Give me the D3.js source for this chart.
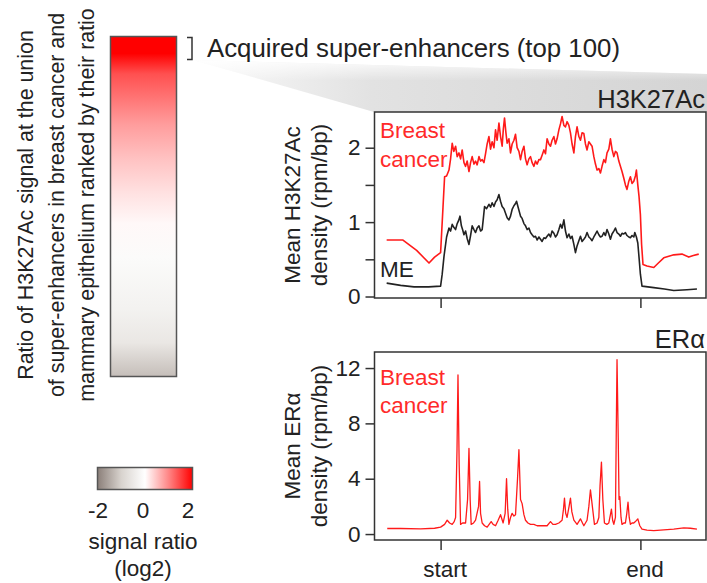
<!DOCTYPE html>
<html>
<head>
<meta charset="utf-8">
<script src="https://cdn.jsdelivr.net/npm/d3@7"></script>
<style>
  body { margin: 0; background: #fff; }
  svg text { font-family: "Liberation Sans", Arial, sans-serif; fill: #222; }
</style>
</head>
<body>
<div id="chart"></div>
<script>
// ranked log2 ratio along the heatmap (rank fraction, ratio)
const heatRank  = [0, 0.05, 0.11, 0.26, 0.36, 0.46, 0.55, 0.65, 0.80, 0.90, 1]
const heatRatio = [2, 2, 1.4, 0.8, 0.5, 0.25, 0.06, -0.1, -0.3, -0.55, -1.25]
const legendTicks = [-2, 0, 2]

// profiles: [relative position (start=0, end=1), density]
const h3Breast = [[-0.27,0.76],[-0.19,0.76],[-0.12,0.62],[-0.058,0.45],[-0.03,0.53],[0,0.59],[0.012,1.2],[0.02,1.61],[0.03,1.62],[0.042,1.7],[0.05,1.85],[0.058,2.06],[0.066,1.95],[0.075,2.02],[0.083,1.88],[0.092,1.93],[0.1,1.85],[0.108,1.97],[0.117,1.8],[0.125,1.75],[0.133,1.82],[0.142,1.68],[0.15,1.8],[0.158,1.88],[0.167,1.78],[0.175,1.82],[0.183,1.77],[0.192,1.88],[0.2,1.82],[0.208,1.84],[0.217,1.8],[0.225,1.92],[0.233,2.05],[0.242,2.15],[0.25,1.98],[0.258,2.08],[0.267,2.0],[0.275,2.24],[0.283,2.1],[0.292,2.33],[0.3,2.15],[0.308,2.02],[0.314,2.25],[0.32,2.4],[0.327,2.2],[0.333,2.06],[0.342,2.12],[0.35,1.93],[0.358,2.05],[0.367,2.1],[0.375,2.18],[0.383,2.0],[0.392,1.95],[0.4,1.84],[0.408,1.95],[0.417,2.02],[0.425,1.85],[0.433,1.77],[0.442,1.85],[0.45,1.88],[0.458,1.8],[0.467,1.75],[0.475,1.82],[0.483,1.78],[0.492,1.84],[0.5,1.84],[0.508,1.9],[0.517,1.97],[0.525,1.92],[0.533,2.12],[0.542,2.05],[0.55,2.02],[0.558,2.1],[0.567,2.15],[0.575,2.05],[0.583,2.12],[0.592,2.24],[0.6,2.32],[0.608,2.42],[0.617,2.3],[0.625,2.28],[0.633,2.35],[0.642,2.3],[0.65,2.2],[0.658,2.05],[0.667,1.93],[0.675,2.15],[0.683,2.28],[0.692,2.15],[0.7,2.1],[0.708,2.2],[0.717,2.19],[0.725,2.05],[0.733,1.97],[0.742,2.08],[0.75,2.05],[0.758,2.02],[0.767,1.88],[0.775,1.78],[0.783,1.7],[0.792,1.72],[0.8,1.66],[0.808,1.75],[0.817,1.84],[0.825,1.8],[0.833,1.93],[0.842,1.98],[0.85,2.12],[0.858,1.98],[0.867,1.88],[0.875,1.95],[0.883,1.93],[0.892,1.82],[0.9,1.75],[0.908,1.68],[0.917,1.59],[0.925,1.5],[0.933,1.44],[0.942,1.55],[0.95,1.61],[0.958,1.52],[0.967,1.55],[0.975,1.62],[0.98,1.7],[0.987,1.5],[0.993,1.35],[1.0,1.1],[1.006,0.7],[1.013,0.43],[1.033,0.41],[1.067,0.39],[1.09,0.45],[1.117,0.52],[1.167,0.56],[1.208,0.57],[1.242,0.53],[1.265,0.55],[1.292,0.57]]

const h3ME = [[-0.27,0.18],[-0.2,0.15],[-0.133,0.13],[-0.06,0.13],[0,0.14],[0.008,0.3],[0.017,0.54],[0.03,0.8],[0.042,0.92],[0.05,0.88],[0.058,0.97],[0.066,0.93],[0.075,0.9],[0.083,0.98],[0.09,1.02],[0.097,1.08],[0.104,0.95],[0.11,0.9],[0.117,0.83],[0.125,0.88],[0.133,0.78],[0.142,0.7],[0.15,0.82],[0.158,0.95],[0.167,0.9],[0.175,0.86],[0.183,0.92],[0.192,0.95],[0.2,0.88],[0.208,0.9],[0.214,1.05],[0.22,1.21],[0.23,1.18],[0.242,1.24],[0.25,1.2],[0.258,1.26],[0.267,1.21],[0.275,1.27],[0.283,1.3],[0.292,1.37],[0.3,1.28],[0.308,1.21],[0.317,1.18],[0.325,1.12],[0.333,1.06],[0.342,1.03],[0.35,1.08],[0.358,1.17],[0.367,1.22],[0.375,1.25],[0.38,1.28],[0.388,1.2],[0.4,1.08],[0.408,1.05],[0.417,0.98],[0.425,0.95],[0.433,0.9],[0.442,0.92],[0.45,0.86],[0.458,0.83],[0.467,0.8],[0.475,0.81],[0.483,0.76],[0.492,0.8],[0.5,0.77],[0.508,0.74],[0.517,0.79],[0.525,0.78],[0.533,0.81],[0.542,0.84],[0.55,0.8],[0.558,0.88],[0.567,0.85],[0.575,0.8],[0.583,0.83],[0.592,0.9],[0.6,0.97],[0.608,0.92],[0.617,1.03],[0.625,0.88],[0.633,0.79],[0.642,0.84],[0.65,0.78],[0.658,0.81],[0.667,0.7],[0.675,0.59],[0.683,0.68],[0.692,0.75],[0.7,0.81],[0.708,0.74],[0.717,0.77],[0.725,0.8],[0.733,0.86],[0.742,0.8],[0.75,0.78],[0.758,0.75],[0.767,0.8],[0.775,0.84],[0.783,0.88],[0.792,0.83],[0.8,0.8],[0.808,0.81],[0.817,0.86],[0.825,0.82],[0.833,0.9],[0.842,0.84],[0.85,0.77],[0.858,0.84],[0.867,0.88],[0.875,0.92],[0.883,0.86],[0.892,0.84],[0.9,0.81],[0.908,0.85],[0.917,0.84],[0.925,0.86],[0.933,0.82],[0.942,0.8],[0.95,0.79],[0.958,0.82],[0.967,0.8],[0.972,0.86],[0.98,0.8],[0.987,0.72],[0.994,0.5],[1.0,0.3],[1.008,0.14],[1.067,0.12],[1.12,0.1],[1.167,0.08],[1.233,0.09],[1.283,0.1]]

const erBreast = [[-0.267,0.4],[-0.2,0.4],[-0.1,0.38],[-0.03,0.42],[0,0.5],[0.02,0.7],[0.033,1.0],[0.045,0.8],[0.058,0.7],[0.068,0.9],[0.075,1.2],[0.082,6],[0.087,11.5],[0.093,5],[0.1,0.7],[0.11,0.8],[0.125,0.8],[0.135,2.5],[0.142,6.2],[0.148,2.5],[0.153,0.7],[0.165,0.8],[0.175,1.0],[0.19,2],[0.195,3.8],[0.2,1.5],[0.208,0.8],[0.22,0.6],[0.233,0.5],[0.243,0.7],[0.253,0.9],[0.263,0.7],[0.275,0.6],[0.288,1.0],[0.3,1.4],[0.313,0.8],[0.323,1.5],[0.33,4.0],[0.336,1.8],[0.342,0.7],[0.35,1.2],[0.358,1.5],[0.367,1.3],[0.375,1.4],[0.385,4],[0.392,6.1],[0.4,2.5],[0.408,2.2],[0.417,1.4],[0.425,1.0],[0.437,0.8],[0.45,0.7],[0.467,0.7],[0.483,0.6],[0.5,0.6],[0.517,0.6],[0.533,0.6],[0.55,0.9],[0.562,0.7],[0.575,0.7],[0.592,0.8],[0.608,1.0],[0.615,1.8],[0.62,2.6],[0.626,1.5],[0.633,1.2],[0.643,2.0],[0.65,2.6],[0.657,1.6],[0.667,1.0],[0.683,0.7],[0.7,1.1],[0.71,0.8],[0.717,0.6],[0.733,1.0],[0.742,2.0],[0.75,3.2],[0.758,2.2],[0.77,0.7],[0.783,0.8],[0.792,1.2],[0.798,3.5],[0.805,5.2],[0.812,2.5],[0.82,0.8],[0.832,0.7],[0.842,0.8],[0.85,1.4],[0.855,1.8],[0.861,1.0],[0.867,0.7],[0.875,1.2],[0.879,7],[0.883,12.6],[0.889,7],[0.893,2.5],[0.897,2.7],[0.903,1.2],[0.908,0.7],[0.917,0.8],[0.925,0.8],[0.932,1.5],[0.938,2.3],[0.944,1.2],[0.95,0.7],[0.958,0.8],[0.967,0.8],[0.975,0.9],[0.987,1.1],[0.997,0.6],[1.008,0.35],[1.033,0.28],[1.067,0.25],[1.117,0.3],[1.167,0.35],[1.217,0.45],[1.25,0.42],[1.283,0.35]]

const h3Ticks = [0, 0.5, 1, 1.5, 2]
const erTicks = [0, 4, 8, 12]
const posTicks = [0, 1]
const posLabels = ["start", "end"]

const width = 707, height = 583
const fontSize = 22.5

const svg = d3.select("#chart")
  .append("svg")
    .attr("width", width)
    .attr("height", height)

const defs = svg.append("defs")

const color = d3.scaleLinear()
  .domain([-2, -1, 0, 1, 2])
  .range(["#8b7f79", "#d8d3ce", "#ffffff", "#ff8585", "#ff0000"])
  .clamp(true)

// shaded wedge from bracket to the top profile
const wedgeGrad = defs.append("linearGradient")
  .attr("id", "wedge")
  .attr("x1", "0%").attr("x2", "100%").attr("y1", "0%").attr("y2", "0%")
wedgeGrad.append("stop").attr("offset", "0%").attr("stop-color", "#fafafa")
wedgeGrad.append("stop").attr("offset", "35%").attr("stop-color", "#e2e2e2")
wedgeGrad.append("stop").attr("offset", "100%").attr("stop-color", "#d4d4d4")

const wedgeFade = defs.append("linearGradient")
  .attr("id", "wedgeFade")
  .attr("x1", "0%").attr("x2", "0%").attr("y1", "0%").attr("y2", "100%")
wedgeFade.append("stop").attr("offset", "0%").attr("stop-color", "#fff").attr("stop-opacity", 0.9)
wedgeFade.append("stop").attr("offset", "40%").attr("stop-color", "#fff").attr("stop-opacity", 0)

svg.append("path")
  .attr("d", "M193,60 L707,74 L707,112 L374,112 Z")
  .attr("fill", "url(#wedge)")
svg.append("path")
  .attr("d", "M193,60 L707,74 L707,112 L374,112 Z")
  .attr("fill", "url(#wedgeFade)")

// heatmap bar
const heatGrad = defs.append("linearGradient")
  .attr("id", "heat")
  .attr("x1", "0%").attr("x2", "0%").attr("y1", "0%").attr("y2", "100%")
heatGrad.selectAll("stop")
  .data(heatRank)
  .join("stop")
    .attr("offset", d => d * 100 + "%")
    .attr("stop-color", (d, i) => color(heatRatio[i]))

svg.append("rect")
  .attr("x", 110.5).attr("y", 36.5)
  .attr("width", 66).attr("height", 340)
  .attr("fill", "url(#heat)")
  .attr("stroke", "#555")
  .attr("stroke-width", 1.5)

// bracket for top 100
svg.append("path")
  .attr("d", "M187,37.5 H192 V59.5 H187")
  .attr("fill", "none")
  .attr("stroke", "#333")
  .attr("stroke-width", 1.5)

svg.append("text")
  .attr("x", 207).attr("y", 57)
  .attr("font-size", 25.8)
  .text("Acquired super-enhancers (top 100)")

// left vertical title
const leftTitle = [
  "Ratio of H3K27Ac signal at the union",
  "of super-enhancers in breast cancer and",
  "mammary epithelium ranked by their ratio"
]
svg.append("g")
  .selectAll("text")
  .data(leftTitle)
  .join("text")
    .attr("transform", (d, i) => `translate(${33 + i * 30.5},205) rotate(-90)`)
    .attr("text-anchor", "middle")
    .attr("font-size", 21.4)
    .text(d => d)

// legend colour bar
const legGrad = defs.append("linearGradient")
  .attr("id", "leg")
  .attr("x1", "0%").attr("x2", "100%").attr("y1", "0%").attr("y2", "0%")
legGrad.selectAll("stop")
  .data(color.domain())
  .join("stop")
    .attr("offset", d => (d + 2) / 4 * 100 + "%")
    .attr("stop-color", d => color(d))

svg.append("rect")
  .attr("x", 97.5).attr("y", 467.5)
  .attr("width", 95).attr("height", 22)
  .attr("fill", "url(#leg)")
  .attr("stroke", "#555")
  .attr("stroke-width", 1.5)

const legX = d3.scaleLinear().domain([-2, 2]).range([98, 188])
svg.append("g")
  .selectAll("text")
  .data(legendTicks)
  .join("text")
    .attr("x", d => legX(d))
    .attr("y", 518)
    .attr("text-anchor", "middle")
    .attr("font-size", fontSize)
    .text(d => d)

svg.append("text")
  .attr("x", 143).attr("y", 549)
  .attr("text-anchor", "middle")
  .attr("font-size", fontSize)
  .text("signal ratio")
svg.append("text")
  .attr("x", 143).attr("y", 576)
  .attr("text-anchor", "middle")
  .attr("font-size", fontSize)
  .text("(log2)")

// profile panels
const x = d3.scaleLinear().domain([-1 / 3, 4 / 3]).range([374, 707])

function panel(opts) {
  const y = d3.scaleLinear().domain(opts.domain).range([opts.bottom, opts.top])
  const g = svg.append("g")

  g.append("g")
    .attr("transform", `translate(374.5,0)`)
    .call(d3.axisLeft(y).tickValues(opts.ticks).tickSize(9).tickPadding(5)
      .tickFormat(d => Number.isInteger(d) ? d : ""))
    .call(a => a.select(".domain").remove())
    .call(a => a.selectAll("line").attr("stroke", "#333").attr("stroke-width", 1.5))
    .call(a => a.selectAll("text").attr("font-size", fontSize).attr("fill", "#222")
      .attr("font-family", "Liberation Sans, Arial, sans-serif"))

  g.append("g")
    .attr("transform", `translate(0,${opts.bottom})`)
    .call(d3.axisBottom(x).tickValues(posTicks).tickSize(10)
      .tickFormat((d, i) => opts.showX ? posLabels[i] : ""))
    .call(a => a.select(".domain").remove())
    .call(a => a.selectAll("line").attr("stroke", "#333").attr("stroke-width", 1.5))
    .call(a => a.selectAll("text").attr("font-size", fontSize).attr("fill", "#222")
      .attr("dy", "1.05em").attr("dx", 4)
      .attr("font-family", "Liberation Sans, Arial, sans-serif"))

  const line = d3.line().x(d => x(d[0])).y(d => y(d[1]))
  opts.series.forEach(s => {
    g.append("path")
      .datum(s.data)
      .attr("fill", "none")
      .attr("stroke", s.color)
      .attr("stroke-width", s.width)
      .attr("stroke-linejoin", "round")
      .attr("d", line)
  })

  g.append("rect")
    .attr("x", 374.5).attr("y", opts.top)
    .attr("width", 331.5).attr("height", opts.bottom - opts.top)
    .attr("fill", "none")
    .attr("stroke", "#333")
    .attr("stroke-width", 1.5)

  g.append("text")
    .attr("x", 705).attr("y", opts.top - 4)
    .attr("text-anchor", "end")
    .attr("font-size", 25.5)
    .text(opts.title)

  g.selectAll(".ylab")
    .data(opts.ylabel)
    .join("text")
      .attr("transform", (d, i) => `translate(${300 + i * 27},${(opts.top + opts.bottom) / 2}) rotate(-90)`)
      .attr("text-anchor", "middle")
      .attr("font-size", fontSize)
      .text(d => d)

  opts.labels.forEach(l => {
    g.append("text")
      .attr("x", 380).attr("y", l.y)
      .attr("font-size", fontSize)
      .style("fill", l.color)
      .text(l.text)
  })
}

panel({
  top: 112, bottom: 298, domain: [-0.02, 2.48], ticks: h3Ticks,
  title: "H3K27Ac", ylabel: ["Mean H3K27Ac", "density (rpm/bp)"], showX: false,
  series: [
    { data: h3Breast, color: "#ff1a1a", width: 1.6 },
    { data: h3ME, color: "#222", width: 1.6 }
  ],
  labels: [
    { text: "Breast", y: 138, color: "#ff2a2a" },
    { text: "cancer", y: 167, color: "#ff2a2a" },
    { text: "ME", y: 277, color: "#222" }
  ]
})

panel({
  top: 352, bottom: 540, domain: [-0.43, 13.16], ticks: erTicks,
  title: "ERα", ylabel: ["Mean ERα", "density (rpm/bp)"], showX: true,
  series: [
    { data: erBreast, color: "#ff1a1a", width: 1.3 }
  ],
  labels: [
    { text: "Breast", y: 385, color: "#ff2a2a" },
    { text: "cancer", y: 413, color: "#ff2a2a" }
  ]
})
</script>
</body>
</html>
